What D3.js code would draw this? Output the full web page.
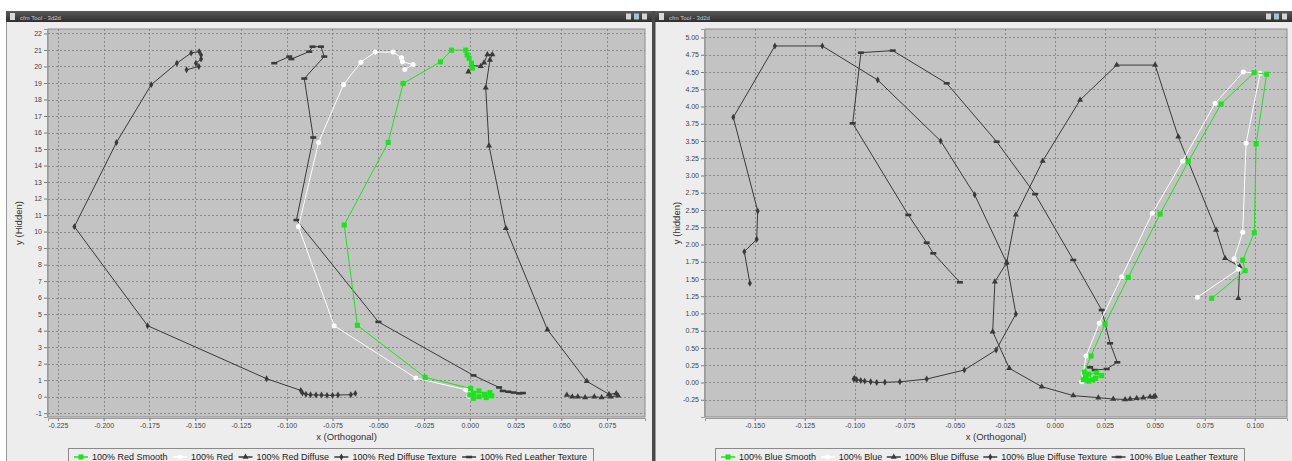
<!DOCTYPE html>
<html><head><meta charset="utf-8">
<script src="https://cdn.jsdelivr.net/npm/d3@7"></script>
<style>
html,body{margin:0;padding:0;background:#fff;overflow:hidden;}
svg{display:block;font-family:"Liberation Sans",Arial,sans-serif;}
</style></head><body>
<svg id="c" width="1292" height="461"></svg>
<script>
// ---------------- DATA ----------------
const redNames = ["100% Red Smooth","100% Red","100% Red Diffuse","100% Red Diffuse Texture","100% Red Leather Texture"];
const blueNames = ["100% Blue Smooth","100% Blue","100% Blue Diffuse","100% Blue Diffuse Texture","100% Blue Leather Texture"];

const redXTicks = [-0.225,-0.200,-0.175,-0.150,-0.125,-0.100,-0.075,-0.050,-0.025,0.000,0.025,0.050,0.075];
const redYTicks = [-1,0,1,2,3,4,5,6,7,8,9,10,11,12,13,14,15,16,17,18,19,20,21,22];
const blueXTicks = [-0.150,-0.125,-0.100,-0.075,-0.050,-0.025,0.000,0.025,0.050,0.075,0.100];
const blueYTicks = [-0.25,0.00,0.25,0.50,0.75,1.00,1.25,1.50,1.75,2.00,2.25,2.50,2.75,3.00,3.25,3.50,3.75,4.00,4.25,4.50,4.75,5.00];

const redSmooth = [[0.0014,19.9],[0.0009,20.2],[-0.0004,20.5],[-0.0015,20.7],[-0.0022,20.99],[-0.010,20.99],[-0.016,20.28],[-0.0364,18.97],[-0.0446,15.4],[-0.0686,10.4],[-0.0614,4.32],[-0.0244,1.17],[0.0005,0.5],[0.002,0.2],[0.005,0.35],[0.008,0.15],[0.011,0.25],[0.012,0.05],[0.009,-0.05],[0.005,0.0],[0.002,-0.1],[0.0,0.1]];
const redPlain = [[-0.0355,19.82],[-0.031,20.12],[-0.0368,20.28],[-0.0373,20.53],[-0.0419,20.87],[-0.0517,20.87],[-0.0595,20.26],[-0.069,18.9],[-0.0826,15.4],[-0.0936,10.3],[-0.0741,4.3],[-0.0295,1.13],[-0.0022,0.42],[-0.0004,0.02]];
const redDiffuse = [[-0.0008,19.68],[0.0014,20.06],[0.006,20.02],[0.0078,20.22],[0.0096,20.73],[0.0123,20.73],[0.011,20.4],[0.0087,18.71],[0.0105,15.2],[0.0197,10.2],[0.0424,4.06],[0.0639,0.93],[0.076,0.15],[0.080,0.2],[0.081,0.05],[0.077,0.0],[0.072,-0.05],[0.068,0.0],[0.063,-0.05],[0.059,0.0],[0.056,0.0],[0.053,0.1]];
const redDiffuseTexture = [[-0.1547,19.8],[-0.148,20.0],[-0.1496,20.2],[-0.1468,20.45],[-0.1468,20.7],[-0.1478,20.9],[-0.1522,20.82],[-0.160,20.2],[-0.174,18.9],[-0.193,15.4],[-0.216,10.3],[-0.176,4.3],[-0.111,1.09],[-0.0923,0.38],[-0.0914,0.22],[-0.0895,0.15],[-0.087,0.12],[-0.084,0.1],[-0.081,0.1],[-0.078,0.08],[-0.075,0.08],[-0.072,0.1],[-0.065,0.12],[-0.0625,0.2]];
const redLeather = [[-0.1068,20.2],[-0.0986,20.6],[-0.0975,20.45],[-0.0877,20.9],[-0.0859,21.2],[-0.0813,21.2],[-0.0795,20.6],[-0.0904,19.27],[-0.0855,15.7],[-0.0947,10.7],[-0.0499,4.53],[0.002,1.29],[0.016,0.56],[0.018,0.35],[0.021,0.3],[0.024,0.25],[0.027,0.2],[0.029,0.22]];

const blueSmooth = [[0.0785,1.22],[0.0952,1.62],[0.094,1.775],[0.0998,2.17],[0.1007,3.457],[0.106,4.467],[0.0997,4.49],[0.0832,4.036],[0.0668,3.2],[0.0527,2.442],[0.0368,1.524],[0.0252,0.848],[0.0182,0.384],[0.0148,0.15],[0.0143,0.04],[0.017,0.02],[0.0205,0.06],[0.0235,0.1],[0.021,0.14],[0.017,0.12],[0.0155,0.08],[0.019,0.04]];
const bluePlain = [[0.0713,1.235],[0.0918,1.64],[0.0897,1.794],[0.094,2.177],[0.0957,3.467],[0.1027,4.48],[0.0943,4.50],[0.0802,4.046],[0.064,3.21],[0.0488,2.452],[0.0335,1.533],[0.0223,0.858],[0.0157,0.384],[0.0143,0.133],[0.0135,0.012]];
const blueDiffuse = [[0.0918,1.22],[0.0925,1.68],[0.0852,1.80],[0.0807,2.21],[0.0618,3.56],[0.0502,4.60],[0.031,4.60],[0.0127,4.094],[-0.006,3.21],[-0.0194,2.43],[-0.024,1.736],[-0.0299,1.46],[-0.031,0.736],[-0.0227,0.206],[-0.0065,-0.06],[0.0093,-0.19],[0.0218,-0.22],[0.0293,-0.24],[0.0352,-0.245],[0.0377,-0.24],[0.041,-0.23],[0.0443,-0.22],[0.0477,-0.206],[0.0502,-0.196],[0.0495,-0.21]];
const blueDiffuseTexture = [[-0.1524,1.438],[-0.1552,1.896],[-0.149,2.075],[-0.1485,2.486],[-0.1607,3.843],[-0.1399,4.877],[-0.1162,4.877],[-0.0885,4.384],[-0.057,3.5],[-0.04,2.72],[-0.024,1.736],[-0.0194,0.993],[-0.0293,0.471],[-0.0452,0.181],[-0.064,0.05],[-0.0774,0.01],[-0.0849,0.003],[-0.089,0.0],[-0.092,0.01],[-0.095,0.02],[-0.097,0.03],[-0.099,0.04],[-0.1005,0.05],[-0.1,0.06]];
const blueLeather = [[-0.0474,1.452],[-0.0607,1.872],[-0.064,2.026],[-0.0732,2.428],[-0.101,3.756],[-0.0969,4.78],[-0.081,4.81],[-0.054,4.336],[-0.029,3.49],[-0.0098,2.73],[0.0093,1.775],[0.0235,1.05],[0.0277,0.568],[0.0313,0.293],[0.026,0.196],[0.020,0.18],[0.0177,0.22]];

// ---------------- STYLE ----------------
const GREEN = "#19e619", WHITE = "#ffffff", DARK = "#3a3a3a";
const seriesStyle = [
  {color: GREEN, shape: "square"},
  {color: WHITE, shape: "circle"},
  {color: DARK, shape: "triangle"},
  {color: DARK, shape: "diamond"},
  {color: DARK, shape: "hrect"}
];

const svg = d3.select("#c");
svg.append("rect").attr("width",1292).attr("height",461).attr("fill","#fff");
const defs = svg.append("defs");
const tg = defs.append("linearGradient").attr("id","tb").attr("x1",0).attr("y1",0).attr("x2",0).attr("y2",1);
tg.append("stop").attr("offset","0%").attr("stop-color","#5a5a5a");
tg.append("stop").attr("offset","100%").attr("stop-color","#2e2e2e");

function drawWindow(wx, ww){
  const g = svg.append("g");
  g.append("rect").attr("x",wx).attr("y",11).attr("width",ww).attr("height",450).attr("fill","#ededed");
  g.append("rect").attr("x",wx).attr("y",11).attr("width",ww).attr("height",11).attr("fill","url(#tb)");
  g.append("rect").attr("x",wx+4).attr("y",13).attr("width",5).attr("height",7).attr("fill","#d8d8d8");
  g.append("text").attr("x",wx+14).attr("y",19.5).attr("font-size",6).attr("fill","#cfcfcf").text("cfm Tool - 3d2d");
  const ix = wx + ww - 26;
  [0,8,16].forEach((d,i)=>{
    g.append("rect").attr("x",ix+d).attr("y",13.5).attr("width",5).attr("height",6)
      .attr("fill", i===1 ? "#9fc4d8" : "#d5d5d5");
  });
  g.append("line").attr("x1",wx+0.5).attr("x2",wx+0.5).attr("y1",22).attr("y2",461).attr("stroke","#9a9a9a");
}

function symbolPath(shape){
  if (shape==="square") return d3.symbol(d3.symbolSquare, 26)();
  if (shape==="circle") return d3.symbol(d3.symbolCircle, 20)();
  if (shape==="triangle") return d3.symbol(d3.symbolTriangle, 16)();
  if (shape==="diamond") return d3.symbol(d3.symbolDiamond, 14)();
  return "M-3,-1.3H3V1.3H-3Z";
}

function drawPanel(p){
  const x = d3.scaleLinear().domain(p.xDomain).range([p.px0, p.px1]);
  const y = d3.scaleLinear().domain(p.yDomain).range([p.py1, p.py0]);
  const g = svg.append("g");
  g.append("rect").attr("x",p.px0).attr("y",p.py0).attr("width",p.px1-p.px0).attr("height",p.py1-p.py0)
    .attr("fill","#c3c3c3").attr("stroke","#8c8c8c").attr("stroke-width",1);
  // grid
  g.selectAll(null).data(p.xTicks).enter().append("line")
    .attr("x1",d=>Math.round(x(d))+0.5).attr("x2",d=>Math.round(x(d))+0.5)
    .attr("y1",p.py0).attr("y2",p.py1)
    .attr("stroke","#7c7c7c").attr("stroke-dasharray","2,2").attr("stroke-width",0.8);
  g.selectAll(null).data(p.yTicks).enter().append("line")
    .attr("y1",d=>Math.round(y(d))+0.5).attr("y2",d=>Math.round(y(d))+0.5)
    .attr("x1",p.px0).attr("x2",p.px1)
    .attr("stroke","#7c7c7c").attr("stroke-dasharray","2,2").attr("stroke-width",0.8);
  // axes
  const ax = g.append("g").attr("transform",`translate(0,${p.py1+1})`)
    .call(d3.axisBottom(x).tickValues(p.xTicks).tickFormat(p.xFmt).tickSize(3).tickPadding(2));
  const ay = g.append("g").attr("transform",`translate(${p.px0-1},0)`)
    .call(d3.axisLeft(y).tickValues(p.yTicks).tickFormat(p.yFmt).tickSize(3).tickPadding(2));
  [ax,ay].forEach(a=>{
    a.select(".domain").attr("stroke","#9a9a9a");
    a.selectAll(".tick line").attr("stroke","#777");
    a.selectAll(".tick text").attr("fill","#444").attr("font-size",7).attr("font-family","Liberation Sans, Arial, sans-serif");
  });
  // axis labels
  g.append("text").attr("x",(p.px0+p.px1)/2).attr("y",440).attr("text-anchor","middle")
    .attr("font-size",9.5).attr("fill","#333").text("x (Orthogonal)");
  g.append("text").attr("transform",`translate(${p.ylx},${(p.py0+p.py1)/2}) rotate(-90)`)
    .attr("text-anchor","middle").attr("font-size",9.5).attr("fill","#333").text(p.yLabel);
  // series (reverse order so first is on top)
  const clip = "clip" + p.id;
  defs.append("clipPath").attr("id",clip).append("rect")
    .attr("x",p.px0).attr("y",p.py0).attr("width",p.px1-p.px0).attr("height",p.py1-p.py0);
  const sg = g.append("g").attr("clip-path",`url(#${clip})`);
  const line = d3.line().x(d=>x(d[0])).y(d=>y(d[1]));
  for (let i = p.series.length-1; i >= 0; i--){
    const st = seriesStyle[i];
    sg.append("path").attr("d", line(p.series[i])).attr("fill","none")
      .attr("stroke", st.color).attr("stroke-width",1);
    sg.selectAll(null).data(p.series[i]).enter().append("path")
      .attr("d", symbolPath(st.shape))
      .attr("transform", d=>`translate(${x(d[0])},${y(d[1])})`)
      .attr("fill", st.color);
  }
  // legend
  const lg = svg.append("g");
  const cy = 457;
  const lineW = 14, gap1 = 4, pad = 6;
  const texts = p.names.map(n=>{
    const t = lg.append("text").attr("font-size",9).attr("fill","#222").attr("y",cy+3).text(n);
    return {t, w: t.node().getComputedTextLength()};
  });
  const fixed = d3.sum(texts, d=>d.w) + p.names.length*(lineW+gap1);
  const gap2 = (p.legendW - 2*pad - fixed)/(p.names.length-1);
  lg.insert("rect",":first-child").attr("x",p.legendX+0.5).attr("y",448.5).attr("width",p.legendW).attr("height",20)
    .attr("fill","#ededed").attr("stroke","#8a8a8a");
  let cx = p.legendX + pad;
  p.names.forEach((n,i)=>{
    const st = seriesStyle[i];
    lg.append("line").attr("x1",cx).attr("x2",cx+lineW).attr("y1",cy).attr("y2",cy)
      .attr("stroke",st.color).attr("stroke-width",1.5);
    lg.append("path").attr("d",symbolPath(st.shape)).attr("transform",`translate(${cx+lineW/2},${cy})`).attr("fill",st.color);
    texts[i].t.attr("x", cx+lineW+gap1);
    cx += lineW + gap1 + texts[i].w + gap2;
  });
}

drawWindow(6, 646);
drawWindow(655, 637);
svg.append("rect").attr("x",652).attr("y",11).attr("width",3).attr("height",450).attr("fill","#4a4a4a");

const fmt3 = v => v.toFixed(3);
const fmt2 = v => v.toFixed(2);
const fmt0 = v => String(v);

drawPanel({
  id:"L", px0:48, px1:645, py0:29, py1:417,
  xDomain:[-0.2304, 0.0957], yDomain:[-1.23, 22.27],
  xTicks:redXTicks, yTicks:redYTicks, xFmt:fmt3, yFmt:fmt0,
  yLabel:"y (Hidden)", ylx:22,
  series:[redSmooth, redPlain, redDiffuse, redDiffuseTexture, redLeather],
  names:redNames, legendX:68, legendW:525
});
drawPanel({
  id:"R", px0:705, px1:1287, py0:29, py1:417,
  xDomain:[-0.17485, 0.11615], yDomain:[-0.5, 5.123],
  xTicks:blueXTicks, yTicks:blueYTicks, xFmt:fmt3, yFmt:fmt2,
  yLabel:"y (hidden)", ylx:680,
  series:[blueSmooth, bluePlain, blueDiffuse, blueDiffuseTexture, blueLeather],
  names:blueNames, legendX:715, legendW:529
});
</script>
</body></html>
